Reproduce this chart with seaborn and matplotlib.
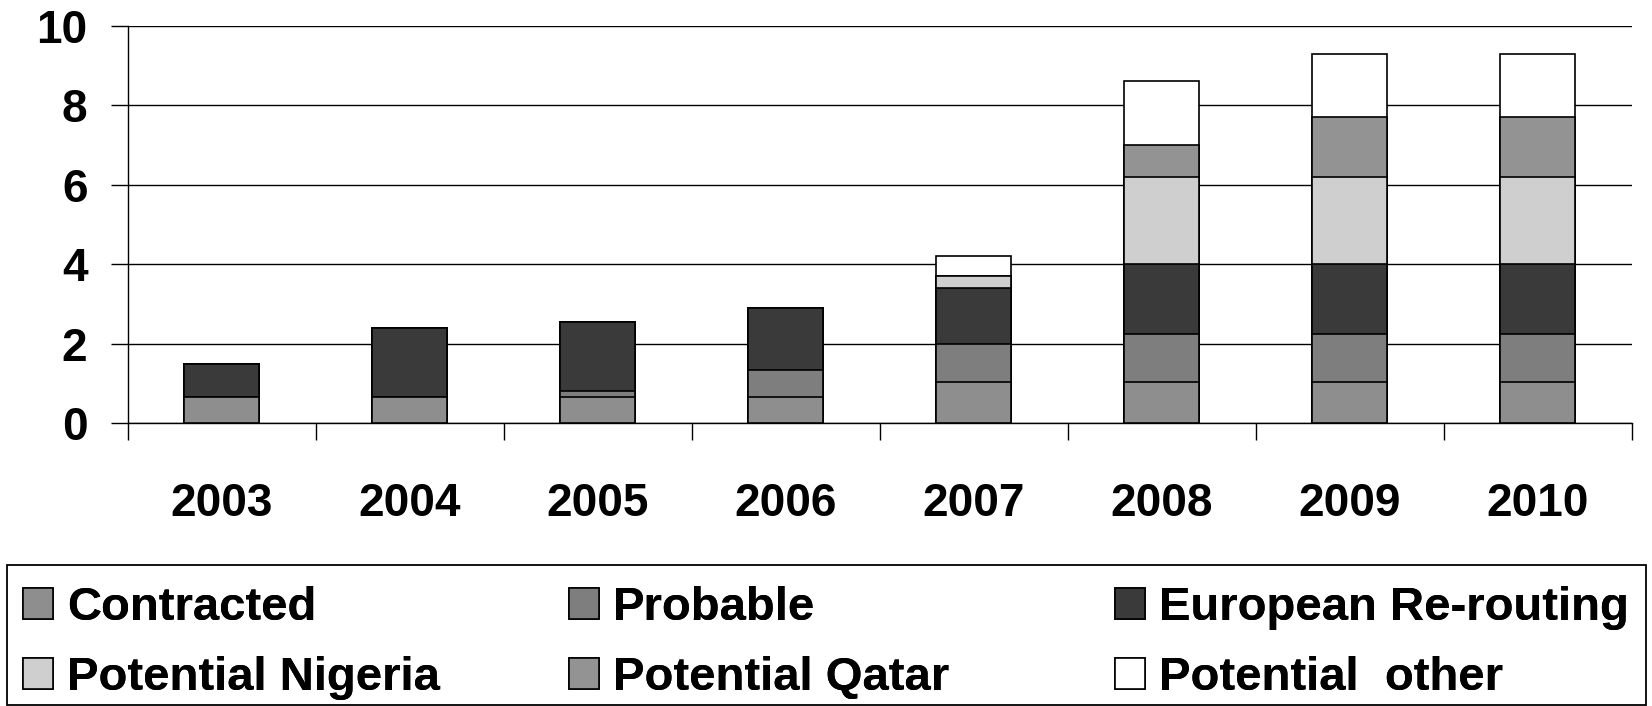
import numpy as np
import pandas as pd
import matplotlib
matplotlib.use("Agg")
import matplotlib.pyplot as plt
from matplotlib.patches import Patch, Rectangle
import seaborn as sns

# Volumes per year, stacked bottom to top
years = ["2003", "2004", "2005", "2006", "2007", "2008", "2009", "2010"]
contracted = [0.65, 0.65, 0.65, 0.65, 1.05, 1.05, 1.05, 1.05]
probable = [0.0, 0.0, 0.15, 0.70, 0.95, 1.20, 1.20, 1.20]
european = [0.85, 1.75, 1.75, 1.55, 1.40, 1.75, 1.75, 1.75]
nigeria = [0.0, 0.0, 0.0, 0.0, 0.30, 2.20, 2.20, 2.20]
qatar = [0.0, 0.0, 0.0, 0.0, 0.0, 0.80, 1.50, 1.50]
other = [0.0, 0.0, 0.0, 0.0, 0.50, 1.60, 1.60, 1.60]

series_names = ["Contracted", "Probable", "European Re-routing",
                "Potential Nigeria", "Potential Qatar", "Potential  other"]
series_values = [contracted, probable, european, nigeria, qatar, other]
series_colors = ["#8e8e8e", "#7e7e7e", "#3a3a3a", "#cfcfcf", "#939393", "#ffffff"]
y_ticks = [0, 2, 4, 6, 8, 10]

sns.set_style("white")
plt.rcParams["font.family"] = ["Liberation Sans", "DejaVu Sans"]
plt.rcParams["font.weight"] = "bold"
plt.rcParams["text.color"] = "black"
plt.rcParams["xtick.color"] = "black"
plt.rcParams["ytick.color"] = "black"
plt.rcParams["axes.labelcolor"] = "black"

FS = 33
LEG_FS = 34
W, H = 1652, 706
fig = plt.figure(figsize=(W / 100, H / 100), dpi=100)
ax = fig.add_axes([127.7 / W, 1 - 423.3 / H, 1504 / W, 397.6 / H])

# Stack by drawing cumulative totals from the top layer down
cum = np.cumsum(np.array(series_values), axis=0)
for i in range(len(series_names) - 1, -1, -1):
    df = pd.DataFrame({"year": years, "value": cum[i]})
    sns.barplot(data=df, x="year", y="value", order=years, color=series_colors[i],
                saturation=1, width=0.4, edgecolor="black", linewidth=1.2,
                ax=ax, zorder=3)

ax.set_xlim(-0.5, len(years) - 0.5)
ax.set_ylim(0, 10)
ax.set_xlabel("")
ax.set_ylabel("")

# Horizontal gridlines
ax.set_yticks(y_ticks)
ax.set_yticklabels([str(t) for t in y_ticks], fontsize=FS, fontweight="bold",
                   color="black")
ax.yaxis.grid(True, color="black", linewidth=1.0, zorder=0)
ax.set_axisbelow(True)
ax.tick_params(axis="y", left=True, direction="out", length=12, width=1.0,
               pad=17, color="black", labelcolor="black")

# Category boundaries as ticks, year labels centred between them
ax.set_xticks(np.arange(-0.5, len(years), 1.0))
ax.set_xticklabels([])
ax.set_xticks(np.arange(len(years)), minor=True)
ax.set_xticklabels(years, minor=True, fontsize=FS, fontweight="bold", color="black")
ax.tick_params(axis="x", which="major", bottom=True, direction="out", length=12,
               width=1.0, color="black")
ax.tick_params(axis="x", which="minor", bottom=True, length=0, pad=42,
               labelcolor="black")

for side in ["top", "right"]:
    ax.spines[side].set_visible(False)
for side in ["left", "bottom"]:
    ax.spines[side].set_color("black")
    ax.spines[side].set_linewidth(1.0)

# Legend: framed box with three columns of two entries
fig.add_artist(Rectangle((7 / W, 1 / H), 1639 / W, (H - 565 - 1) / H,
                         transform=fig.transFigure, fill=False,
                         edgecolor="black", linewidth=1.3))
handles = [Patch(facecolor=c, edgecolor="black", linewidth=1.2) for c in series_colors]
col_x = [23, 569, 1115]
for c in range(3):
    idx = [c, c + 3]
    leg = fig.legend([handles[i] for i in idx], [series_names[i] for i in idx],
                     loc="upper left", bbox_to_anchor=(col_x[c] / W, 1 - 586 / H),
                     frameon=False, borderpad=0, borderaxespad=0,
                     handlelength=0.63, handleheight=0.63, handletextpad=0.3,
                     labelspacing=0.56, labelcolor="black",
                     prop={"size": LEG_FS, "weight": "bold"})
    fig.add_artist(leg)

fig.savefig("out.png", dpi=100)
